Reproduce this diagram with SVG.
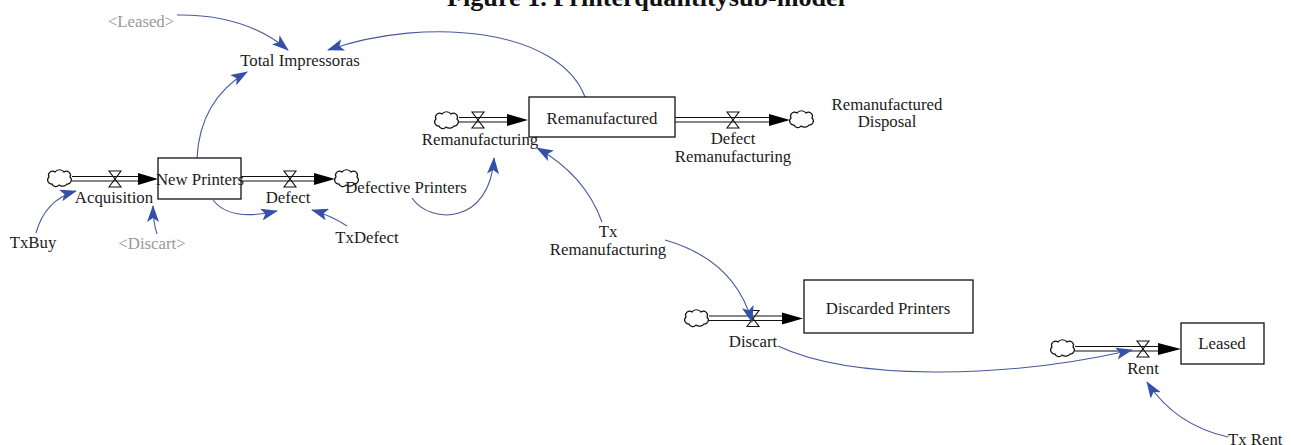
<svg xmlns="http://www.w3.org/2000/svg" width="1291" height="445" viewBox="0 0 1291 445">
<style>
.t{font-family:"Liberation Serif","Times New Roman",serif;font-size:16.8px;fill:#1c1c1c;text-anchor:middle}
.g{fill:#9a9a9a}
.box{fill:#fff;stroke:#111;stroke-width:1.3}
.pipe{stroke:#111;stroke-width:1.2;fill:none}
.valve{fill:none;stroke:#111;stroke-width:1.1}
.cloud{fill:#fff;stroke:#111;stroke-width:1.2}
.link{stroke:#4a5a9c;stroke-width:1.1;fill:none;marker-end:url(#ab)}
.head{fill:#000}
</style>
<defs>
<marker id="ab" markerUnits="userSpaceOnUse" markerWidth="17" markerHeight="12" viewBox="0 0 17 12" refX="16" refY="6" orient="auto">
<path d="M0,0 L17,6 L0,12 L4,6 Z" fill="#3550a8"/>
</marker>
<path id="cloud" class="cloud" d="M-8,6 a4,4 0 0 1 -3,-7 a4,4 0 0 1 6,-5 a5,4 0 0 1 9,0 a4,4 0 0 1 6,5 a4,4 0 0 1 -3,7 a5,4 0 0 1 -8,1 a4,4 0 0 1 -7,-1 z"/>
<path id="valve" class="valve" d="M-6,-8 H6 L-6,8 H6 Z"/>
</defs>
<rect width="1291" height="445" fill="#fff"/>
<text x="447" y="6" font-family="Liberation Serif, serif" font-size="25" font-weight="bold" fill="#111" textLength="398" lengthAdjust="spacingAndGlyphs">Figure 1. Printerquantitysub-model</text>
<g id="connectors">
<g id="flow-acquisition">
<use href="#cloud" x="60" y="178"/>
<line class="pipe" x1="72" y1="176.5" x2="140" y2="176.5"/><line class="pipe" x1="72" y1="181" x2="140" y2="181"/>
<polygon class="head" points="138,173 158,179 138,185"/>
<use href="#valve" x="115" y="179"/>
</g>
<g id="flow-defect">
<line class="pipe" x1="241" y1="176.5" x2="316" y2="176.5"/><line class="pipe" x1="241" y1="181" x2="316" y2="181"/>
<polygon class="head" points="314,173 335,179 314,185"/>
<use href="#valve" x="290" y="179"/>
<use href="#cloud" x="347" y="178"/>
</g>
<g id="flow-remanufacturing">
<use href="#cloud" x="447" y="120"/>
<line class="pipe" x1="459" y1="117.5" x2="509" y2="117.5"/><line class="pipe" x1="459" y1="122" x2="509" y2="122"/>
<polygon class="head" points="507,114 528,120 507,126"/>
<use href="#valve" x="478" y="120"/>
</g>
<g id="flow-defect-reman">
<line class="pipe" x1="675" y1="117.5" x2="771" y2="117.5"/><line class="pipe" x1="675" y1="122" x2="771" y2="122"/>
<polygon class="head" points="769,114 790,120 769,126"/>
<use href="#valve" x="733" y="120"/>
<use href="#cloud" x="802" y="119"/>
</g>
<g id="flow-discart">
<use href="#cloud" x="697" y="318"/>
<line class="pipe" x1="709" y1="316" x2="784" y2="316"/><line class="pipe" x1="709" y1="320.5" x2="784" y2="320.5"/>
<polygon class="head" points="782,312.5 803,318.5 782,324.5"/>
<use href="#valve" x="753" y="318.5"/>
</g>
<g id="flow-rent">
<use href="#cloud" x="1063" y="348"/>
<line class="pipe" x1="1075" y1="346.5" x2="1160" y2="346.5"/><line class="pipe" x1="1075" y1="351" x2="1160" y2="351"/>
<polygon class="head" points="1158,343 1181,349 1158,355"/>
<use href="#valve" x="1143" y="349"/>
</g>
<path class="link" d="M177,15 Q245,14 288,50"/>
<path class="link" d="M585,97 C560,30 430,15 328,50"/>
<path class="link" d="M197,158 Q200,100 247,72"/>
<path class="link" d="M36,233 Q45,200 76,191"/>
<path class="link" d="M157,234 Q153,222 153,206"/>
<path class="link" d="M213,200 Q230,222 277,211"/>
<path class="link" d="M347,226 Q332,216 312,210"/>
<path class="link" d="M412,198 C430,225 490,225 494,158"/>
<path class="link" d="M602,222 Q585,175 537,148"/>
<path class="link" d="M665,240 Q735,260 752,322"/>
<path class="link" d="M778,346 C850,380 1000,380 1132,350"/>
<path class="link" d="M1228,437 Q1175,425 1147,382"/>
</g>
<g id="new-printers"><rect class="box" x="158" y="158" width="83" height="41"/><text class="t" x="200" y="185">New Printers</text></g>
<g id="remanufactured"><rect class="box" x="529" y="97" width="146" height="40"/><text class="t" x="602" y="124">Remanufactured</text></g>
<g id="discarded-printers"><rect class="box" x="804" y="280" width="169" height="53"/><text class="t" x="888" y="314">Discarded Printers</text></g>
<g id="leased"><rect class="box" x="1181" y="323" width="83" height="41"/><text class="t" x="1222" y="349">Leased</text></g>
<g id="leased-ghost"><text class="t g" x="141" y="27">&lt;Leased&gt;</text></g>
<g id="total-impressoras"><text class="t" x="300" y="66">Total Impressoras</text></g>
<g id="acquisition"><text class="t" x="114" y="203">Acquisition</text></g>
<g id="txbuy"><text class="t" x="33" y="248">TxBuy</text></g>
<g id="discart-ghost"><text class="t g" x="152" y="249">&lt;Discart&gt;</text></g>
<g id="defect"><text class="t" x="288" y="203">Defect</text></g>
<g id="txdefect"><text class="t" x="367" y="243">TxDefect</text></g>
<g id="defective-printers"><text class="t" x="406" y="193">Defective Printers</text></g>
<g id="remanufacturing"><text class="t" x="480" y="145">Remanufacturing</text></g>
<g id="defect-remanufacturing"><text class="t" x="733" y="144">Defect</text><text class="t" x="733" y="162">Remanufacturing</text></g>
<g id="remanufactured-disposal"><text class="t" x="887" y="110">Remanufactured</text><text class="t" x="887" y="127">Disposal</text></g>
<g id="tx-remanufacturing"><text class="t" x="608" y="237">Tx</text><text class="t" x="608" y="255">Remanufacturing</text></g>
<g id="discart"><text class="t" x="753" y="347">Discart</text></g>
<g id="rent"><text class="t" x="1143" y="374">Rent</text></g>
<g id="tx-rent"><text class="t" x="1228" y="445" style="text-anchor:start">Tx Rent</text></g>
</svg>
